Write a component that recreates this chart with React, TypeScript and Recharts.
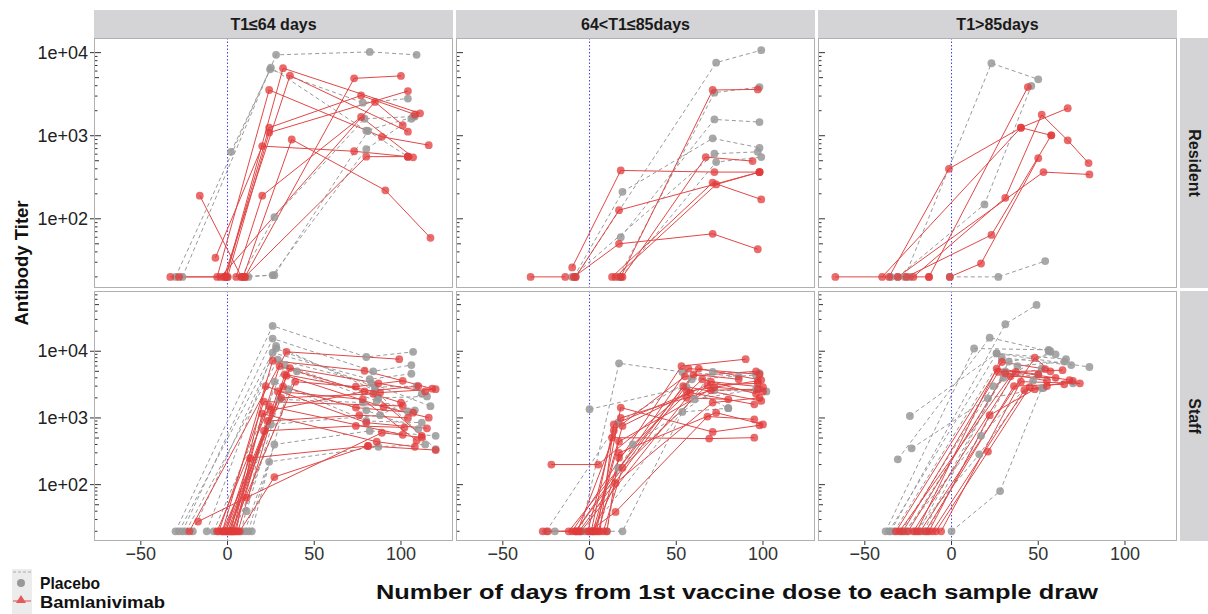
import { ComposedChart, Line, XAxis, YAxis, ReferenceLine } from "recharts";

type Pt = [number, number];

// ---- data: each subject is a list of [day, titer] samples ----

const RES_EARLY_PLACEBO: Pt[][] = [
  [[-26, 20], [28, 9400], [82, 10200], [109, 9400]],
  [[-30, 20], [24.5, 6300], [78, 2500], [104, 2800]],
  [[2, 640], [25, 6600], [80, 1150], [108, 1700]],
  [[8, 20], [27, 105], [79, 1600], [107, 1700]],
  [[12, 20], [26, 21], [80, 690], [106, 1600]],
  [[0, 20], [27, 21], [81, 1140], [104, 560]],
];

const RES_EARLY_BAM: Pt[][] = [
  [[-33, 20], [-1, 20], [32, 6500], [111, 1860]],
  [[-2, 20], [36, 5300], [104, 1120]],
  [[-6, 20], [24, 3550], [89, 970], [116, 770]],
  [[10, 20], [73, 4900], [100, 5250]],
  [[-1, 20], [24, 1250], [77, 3050], [108, 1800]],
  [[0, 20], [24, 1090], [104, 3450]],
  [[-7, 34], [20, 750], [73, 650], [104, 560]],
  [[9, 20], [37, 900], [91, 220], [117, 59]],
  [[5, 20], [20, 190], [77, 1680], [107, 550]],
  [[10, 20], [80, 560], [104, 560]],
  [[-16, 190], [8, 20]],
  [[-28, 20], [-4, 20], [85, 2550], [101, 1340]],
];

const RES_MID_PLACEBO: Pt[][] = [
  [[-8, 20], [73, 7580], [99, 10700]],
  [[17, 20], [72, 3300], [98, 3850]],
  [[18, 60], [72, 1570], [98, 1460]],
  [[-9, 20], [19, 211], [71, 930], [98, 716]],
  [[-10, 20], [72, 607], [97, 640]],
  [[18, 20], [73, 482], [99, 553]],
];

const RES_MID_BAM: Pt[][] = [
  [[-34, 20], [-14, 20]],
  [[-10, 26], [18, 382], [72, 365], [98, 365]],
  [[-8, 20], [17, 127], [98, 365]],
  [[-9, 20], [17, 50], [71, 66], [97, 43]],
  [[18, 20], [71, 3550], [97, 3610]],
  [[19, 20], [67, 553], [94, 495]],
  [[13, 20], [71, 272], [99, 171]],
  [[15, 20], [73, 259], [98, 365]],
];

const RES_LATE_PLACEBO: Pt[][] = [
  [[-27, 20], [23, 7450], [50, 4770]],
  [[-31, 20], [19, 149], [46, 3980]],
  [[-1, 20], [27, 20], [54, 31]],
  [[-35, 20], [-24, 20]],
];

const RES_LATE_BAM: Pt[][] = [
  [[-67, 20], [-13, 20]],
  [[-36, 20], [-1.5, 400], [40, 1250], [67, 2140]],
  [[-13, 20], [44, 3850]],
  [[-40, 20], [40, 1250], [57.5, 1010]],
  [[-22, 20], [31, 179], [52, 1790], [67, 880], [79, 468]],
  [[-26, 20], [23, 64], [57.5, 1010]],
  [[-1, 20], [17, 29], [50, 537]],
  [[-31, 20], [53, 365], [79.5, 342]],
];

const STAFF_EARLY_PLACEBO: Pt[][] = [
  [[-30, 20], [26, 24000], [80, 8200], [107, 9800]],
  [[-26, 20], [26, 15500], [84, 5000], [106, 6200]],
  [[-20, 20], [28, 11000], [85, 2900], [109, 3000]],
  [[-12, 20], [26, 9500], [82, 3800], [106, 4600]],
  [[-8, 20], [33, 6200], [87, 2000], [115, 2100]],
  [[4, 20], [40, 5000], [86, 1800], [108, 1300]],
  [[8, 20], [27, 3500], [80, 900], [112, 850]],
  [[12, 20], [24, 220], [87, 370], [114, 400]],
  [[10, 20], [27, 400], [82, 640], [120, 540]],
  [[11, 40], [30, 1900], [78, 1700], [104, 1250]],
  [[-28, 20], [28, 12000], [85, 2600], [120, 340]],
  [[0, 20], [25, 800], [88, 1100], [112, 2300]],
  [[14, 20], [35, 2700], [80, 1300], [110, 680]],
  [[-24, 20], [29, 7500], [83, 3300], [117, 1500]],
];

const STAFF_EARLY_BAM: Pt[][] = [
  [[-22, 20], [34, 9800], [99, 7600]],
  [[-3, 20], [26, 7200], [79, 5100], [118, 2750]],
  [[-1, 20], [36, 5600], [87, 3300], [114, 2500]],
  [[2, 20], [39, 3500], [74, 2950], [101, 3600]],
  [[0, 20], [34, 4300], [90, 1460], [116, 1010]],
  [[1, 20], [32, 2950], [74, 1430], [107, 1200]],
  [[-5, 20], [21, 1760], [101, 1510]],
  [[3, 20], [20, 1160], [86, 440], [108, 370]],
  [[-2, 20], [21, 640], [74, 760], [102, 720]],
  [[5, 20], [13, 250], [81, 380], [120, 330]],
  [[-17, 28], [11, 64], [89, 600], [112, 510]],
  [[7, 20], [27, 130], [81, 380]],
  [[-1, 20], [30, 6000], [100, 1700]],
  [[4, 20], [25, 1300], [79, 2500], [110, 3000]],
  [[1, 20], [23, 900], [76, 1100], [104, 1000]],
  [[-3, 20], [31, 2000], [84, 2300], [112, 540]],
  [[2, 20], [22, 3000], [80, 850], [115, 700]],
  [[-6, 20], [24, 1500], [101, 560]],
  [[6, 20], [33, 4500], [88, 2400], [120, 2700]],
  [[3, 20], [29, 2500], [78, 1900], [109, 460]],
];

const STAFF_MID_PLACEBO: Pt[][] = [
  [[-5, 20], [17, 6600], [53.5, 4900], [86, 4200]],
  [[0, 1350], [56, 2900], [80, 1400]],
  [[-25, 20], [16.5, 850], [59, 3800], [96, 4400]],
  [[10, 20], [16.5, 180], [60.5, 1900], [96, 2700]],
  [[-20, 20], [19, 20], [53.5, 1230], [80, 1400]],
  [[0, 20], [71, 4900], [98, 4700]],
  [[-3, 20], [25, 400], [72, 2600], [102, 2500]],
];

const STAFF_MID_BAM: Pt[][] = [
  [[-22, 200], [5, 200], [56, 2500], [97, 3600]],
  [[-10, 20], [53, 6000], [90, 7600]],
  [[-8, 20], [57, 5500], [98, 4500]],
  [[-6, 20], [63, 5500], [99, 3700]],
  [[1, 20], [14, 800], [68, 3100], [97, 3300]],
  [[3, 20], [17, 442], [72, 2900], [100, 2500]],
  [[-24, 20], [-8, 20], [54, 3000], [99, 1800]],
  [[2, 20], [19, 760], [58, 2400], [95, 1600]],
  [[2, 20], [15, 105], [71, 1700], [98, 2000]],
  [[0, 20], [15, 39], [68, 1050], [95, 955]],
  [[4, 20], [18, 1430], [71, 617], [98, 776]],
  [[6, 20], [13, 507], [69, 490], [95, 507]],
  [[-12, 20], [60, 4500], [86, 3800]],
  [[5, 20], [17, 254], [65, 3800], [96, 2300]],
  [[-27, 20], [-5, 20], [56, 2000], [80, 1900]],
  [[8, 20], [19, 180], [70, 3500], [100, 2900]],
  [[-1, 20], [14, 650], [55, 4200], [96, 5000]],
  [[10, 20], [17, 300], [73, 1200], [100, 800]],
  [[-7, 20], [18, 1000], [70, 2600], [97, 2700]],
];

const STAFF_LATE_PLACEBO: Pt[][] = [
  [[-38, 20], [13, 11000], [56, 10500]],
  [[-35, 20], [31, 25400], [49, 49500]],
  [[-31, 240], [22, 16000], [56, 10000]],
  [[-24, 1070], [26, 9300], [66, 7600]],
  [[-23, 350], [21, 1970], [53, 2800]],
  [[-36, 20], [26, 9300], [79.5, 5800]],
  [[-33, 20], [29, 8000], [69, 6200]],
  [[-27, 20], [17, 540], [50, 4500]],
  [[-21, 20], [16, 285], [47, 3600]],
  [[0, 20], [28, 80], [52, 2800]],
  [[-19, 20], [31, 5000], [70, 3300]],
  [[-16, 20], [33, 7000], [60, 9000]],
  [[-29, 20], [24, 3000], [57, 10000]],
  [[-14, 20], [38, 6000], [65, 7000]],
  [[-26, 20], [30, 4000], [52, 5500]],
];

const STAFF_LATE_BAM: Pt[][] = [
  [[-32, 20], [29, 6900], [54, 5400]],
  [[-28, 20], [27, 4900], [64, 5200]],
  [[-25, 20], [31, 4700], [55, 3600]],
  [[-22, 20], [37, 4900], [68, 3700]],
  [[-18, 20], [48, 8000], [57, 5000]],
  [[-13, 20], [22, 1100], [48, 2700], [55, 3000]],
  [[-9, 20], [21, 313], [45, 2900]],
  [[-6, 20], [40, 3500], [74, 3300]],
  [[-30, 20], [34, 4200], [60, 4000]],
  [[-20, 20], [26, 5500], [50, 4500]],
  [[-15, 20], [36, 3000], [65, 3200]],
  [[-11, 20], [42, 2600], [70, 3600]],
];

const COLUMN_LABELS = ["T1\u226464 days", "64<T1\u226485days", "T1>85days"];
const ROW_LABELS = ["Resident", "Staff"];

const X_DOMAIN: [number, number] = [-77, 130];
const X_TICKS = [-50, 0, 50, 100];

const RESIDENT_DOMAIN: [number, number] = [14.7, 15000];
const STAFF_DOMAIN: [number, number] = [14.3, 80000];

const RESIDENT_TICKS = [
  20, 30, 40, 50, 60, 70, 80, 90,
  100, 200, 300, 400, 500, 600, 700, 800, 900,
  1000, 2000, 3000, 4000, 5000, 6000, 7000, 8000, 9000,
  10000,
];
const STAFF_TICKS = [
  ...RESIDENT_TICKS,
  20000, 30000, 40000, 50000, 60000, 70000,
];
const LABELED_TICKS = [100, 1000, 10000];

const PANELS = [
  [
    { placebo: RES_EARLY_PLACEBO, bam: RES_EARLY_BAM },
    { placebo: RES_MID_PLACEBO, bam: RES_MID_BAM },
    { placebo: RES_LATE_PLACEBO, bam: RES_LATE_BAM },
  ],
  [
    { placebo: STAFF_EARLY_PLACEBO, bam: STAFF_EARLY_BAM },
    { placebo: STAFF_MID_PLACEBO, bam: STAFF_MID_BAM },
    { placebo: STAFF_LATE_PLACEBO, bam: STAFF_LATE_BAM },
  ],
];

// ---- styling ----
const FONT = "'Liberation Sans', Arial, Helvetica, sans-serif";
const GREY = "#9a9a9a";
const RED = "#e04848";
const AXIS_W = 60;
const PANEL_W = 359;
const PANEL_H = 250;
const COL_LEFT = [94, 456, 818];
const ROW_TOP = [38, 291];

const toData = (s: Pt[]) => s.map(([x, y]) => ({ x, y }));

const isPow10 = (v: number) => {
  const lg = Math.log10(v);
  return Math.abs(lg - Math.round(lg)) < 1e-6;
};

const sci = (v: number) =>
  "1e+" + String(Math.round(Math.log10(v))).padStart(2, "0");

function renderLogTick(props: any, showLabel: boolean) {
  const { x, y, payload } = props;
  const v = payload.value as number;
  const major = isPow10(v);
  const len = major ? 7 : isPow10(v / 5) ? 5 : 3.5;
  const label = showLabel && LABELED_TICKS.includes(v);
  return (
    <g>
      <line x1={x} x2={x + len} y1={y} y2={y} stroke="#333" strokeWidth={1} />
      {label && <line x1={x - 4} x2={x} y1={y} y2={y} stroke="#333" />}
      {label && (
        <text
          x={x - 6}
          y={y}
          textAnchor="end"
          dominantBaseline="central"
          fontSize={18}
          fontFamily={FONT}
          fill="#222"
        >
          {sci(v)}
        </text>
      )}
    </g>
  );
}

// vertical dotted marker for day 0 (first dose)
const dayZeroShape = (p: any) => (
  <line
    x1={p.x1}
    y1={p.y1}
    x2={p.x2}
    y2={p.y2}
    stroke="#3c3cf0"
    strokeWidth={1}
    strokeDasharray="1.5 2"
  />
);

function Panel({ row, col }: { row: number; col: number }) {
  const { placebo, bam } = PANELS[row][col];
  const bottom = row === 1;
  const domain = row === 0 ? RESIDENT_DOMAIN : STAFF_DOMAIN;
  const ticks = row === 0 ? RESIDENT_TICKS : STAFF_TICKS;
  return (
    <div
      style={{
        position: "absolute",
        left: COL_LEFT[col] - AXIS_W,
        top: ROW_TOP[row],
      }}
    >
      <ComposedChart
        width={AXIS_W + PANEL_W}
        height={PANEL_H + (bottom ? 30 : 0)}
        margin={{ top: 0, right: 0, bottom: 0, left: 0 }}
      >
        <XAxis
          type="number"
          dataKey="x"
          domain={X_DOMAIN}
          ticks={X_TICKS}
          allowDataOverflow
          hide={!bottom}
          height={30}
          axisLine={false}
          tickSize={4}
          tickMargin={2}
          tickLine={{ stroke: "#333" }}
          tick={{ fontSize: 18, fill: "#333", fontFamily: FONT }}
          tickFormatter={(v: number) => (v < 0 ? "\u2212" + Math.abs(v) : String(v))}
        />
        <YAxis
          type="number"
          scale="log"
          domain={domain}
          ticks={ticks}
          interval={0}
          allowDataOverflow
          width={AXIS_W}
          axisLine={false}
          tickLine={false}
          tickSize={0}
          tickMargin={0}
          tick={(p: any) => renderLogTick(p, col === 0)}
        />
        <ReferenceLine x={0} stroke="#3c3cf0" shape={dayZeroShape} />
        {placebo.map((s, i) => (
          <Line
            key={"p" + i}
            data={toData(s)}
            dataKey="y"
            type="linear"
            stroke={GREY}
            strokeWidth={1}
            strokeDasharray="4 3"
            dot={{ r: 3.9, fill: "#999", fillOpacity: 0.85, stroke: "none", strokeDasharray: "0" }}
            activeDot={false}
            isAnimationActive={false}
          />
        ))}
        {bam.map((s, i) => (
          <Line
            key={"b" + i}
            data={toData(s)}
            dataKey="y"
            type="linear"
            stroke={RED}
            strokeWidth={1}
            dot={{ r: 3.9, fill: "#e23a3a", fillOpacity: 0.75, stroke: "none" }}
            activeDot={false}
            isAnimationActive={false}
          />
        ))}
      </ComposedChart>
      <div
        style={{
          position: "absolute",
          left: AXIS_W,
          top: 0,
          width: PANEL_W,
          height: PANEL_H,
          border: "1px solid #b0b0b0",
          boxSizing: "border-box",
          pointerEvents: "none",
        }}
      />
    </div>
  );
}

export default function App() {
  return (
    <div
      style={{
        position: "absolute",
        left: 0,
        top: 0,
        width: 1208,
        height: 614,
        background: "#fff",
        overflow: "hidden",
        fontFamily: FONT,
      }}
    >
      <svg
        width={1208}
        height={614}
        style={{ position: "absolute", left: 0, top: 0 }}
        fontFamily={FONT}
      >
        {COLUMN_LABELS.map((t, c) => (
          <g key={t}>
            <rect x={COL_LEFT[c]} y={10} width={PANEL_W} height={28} fill="#d4d4d6" />
            <text
              x={COL_LEFT[c] + PANEL_W / 2}
              y={24}
              textAnchor="middle"
              dominantBaseline="central"
              fontSize={16}
              fontWeight="bold"
              fill="#1a1a1a"
            >
              {t}
            </text>
          </g>
        ))}
        {ROW_LABELS.map((t, r) => (
          <g key={t}>
            <rect x={1180} y={ROW_TOP[r]} width={28} height={PANEL_H} fill="#d4d4d6" />
            <text
              transform={`translate(1194 ${ROW_TOP[r] + PANEL_H / 2}) rotate(90)`}
              textAnchor="middle"
              dominantBaseline="central"
              fontSize={16}
              fontWeight="bold"
              fill="#1a1a1a"
            >
              {t}
            </text>
          </g>
        ))}
        <text
          transform="translate(21 263) rotate(-90)"
          textAnchor="middle"
          dominantBaseline="central"
          fontSize={18.5}
          fontWeight="bold"
          fill="#111"
        >
          Antibody Titer
        </text>
        <text
          x={376}
          y={599}
          fontSize={20}
          fontWeight="bold"
          fill="#111"
          textLength={722}
          lengthAdjust="spacingAndGlyphs"
        >
          Number of days from 1st vaccine dose to each sample draw
        </text>
        {/* legend */}
        <rect x={12} y={569} width={20} height={45} fill="#ececec" />
        <line x1={13} x2={31} y1={572} y2={572} stroke="#aaa" strokeDasharray="3 2" />
        <circle cx={21} cy={583} r={4} fill="#999" />
        <line x1={13} x2={31} y1={601} y2={601} stroke={RED} />
        <polygon points="21,595 26,603 16,603" fill="#e45a5a" />
        <text x={40} y={589} fontSize={17} fontWeight="bold" fill="#111" textLength={60} lengthAdjust="spacingAndGlyphs">
          Placebo
        </text>
        <text x={40} y={608} fontSize={17} fontWeight="bold" fill="#111" textLength={125} lengthAdjust="spacingAndGlyphs">
          Bamlanivimab
        </text>
      </svg>
      {[0, 1].map((r) => [0, 1, 2].map((c) => <Panel key={r + "-" + c} row={r} col={c} />))}
    </div>
  );
}
